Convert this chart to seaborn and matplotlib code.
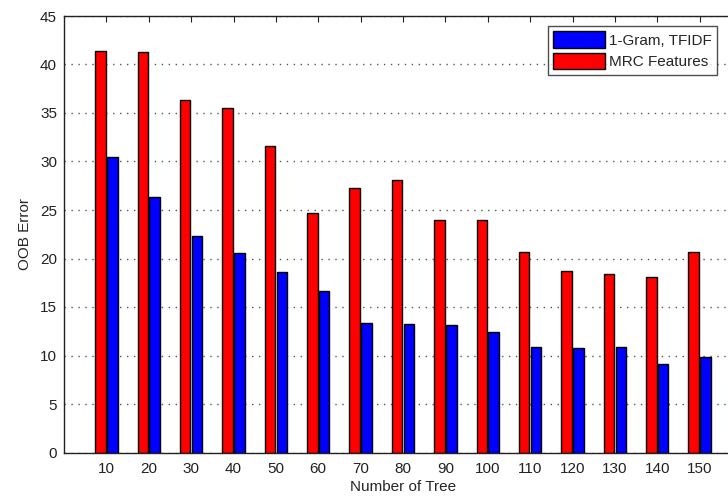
import numpy as np
import pandas as pd
import seaborn as sns
import matplotlib.pyplot as plt
from matplotlib.patches import Patch

## DADOS

arvores = [10, 20, 30, 40, 50, 60, 70, 80, 90, 100, 110, 120, 130, 140, 150]
mrc = [41.4, 41.3, 36.3, 35.5, 31.6, 24.7, 27.3, 28.1, 24.0, 24.0, 20.7, 18.7, 18.4, 18.1, 20.7]
gram = [30.5, 26.3, 22.3, 20.6, 18.6, 16.6, 13.35, 13.2, 13.1, 12.45, 10.85, 10.75, 10.85, 9.1, 9.8]
series = ['MRC Features', '1-Gram, TFIDF']
cores = {'MRC Features': '#ff0000', '1-Gram, TFIDF': '#0000ff'}

df = pd.DataFrame({
    'Number of Tree': arvores * 2,
    'OOB Error': mrc + gram,
    'serie': [series[0]] * len(arvores) + [series[1]] * len(arvores),
})

## FIGURA

sns.set_style('white')
plt.rcParams['font.family'] = ['Liberation Sans', 'DejaVu Sans']

fig = plt.figure(figsize=(7.28, 4.98), dpi=100)
ax = fig.add_axes([64 / 728, 45.5 / 498, 678 / 728, 436.5 / 498])

sns.barplot(data=df, x='Number of Tree', y='OOB Error', hue='serie', hue_order=series,
            palette=cores, saturation=1, width=0.56, gap=0.12, edgecolor='black', linewidth=1.0,
            legend=False, ax=ax)

ax.set_xlim(-1, 15)
ax.set_ylim(0, 45)
ax.set_yticks(range(0, 46, 5))
ax.yaxis.grid(True, linestyle=(0, (1, 4)), color='#555555', linewidth=1.0)
ax.set_axisbelow(True)

ax.tick_params(axis='both', direction='in', length=4, width=0.8, labelsize=11,
               top=True, right=True, colors='#222222')
ax.tick_params(axis='y', length=0, pad=5)
ax.tick_params(axis='x', pad=7)
for s in ax.spines.values():
    s.set_color('#222222')
    s.set_linewidth(1.0)

ax.set_xlabel('Number of Tree', fontsize=11, labelpad=3)
ax.set_ylabel('OOB Error', fontsize=11, labelpad=6)

handles = [Patch(facecolor=cores[s], edgecolor='black', linewidth=1.0) for s in series[::-1]]
leg = ax.legend(handles, series[::-1], loc='upper left', bbox_to_anchor=(484 / 678, 1 - 10 / 436.5),
                fontsize=11, frameon=True, fancybox=False, borderaxespad=0,
                handlelength=3.4, handleheight=1.3, handletextpad=0.25, labelspacing=0.3,
                borderpad=0.35)
leg.get_frame().set_edgecolor('#222222')
leg.get_frame().set_linewidth(1.0)

plt.savefig('out.png', dpi=100)
